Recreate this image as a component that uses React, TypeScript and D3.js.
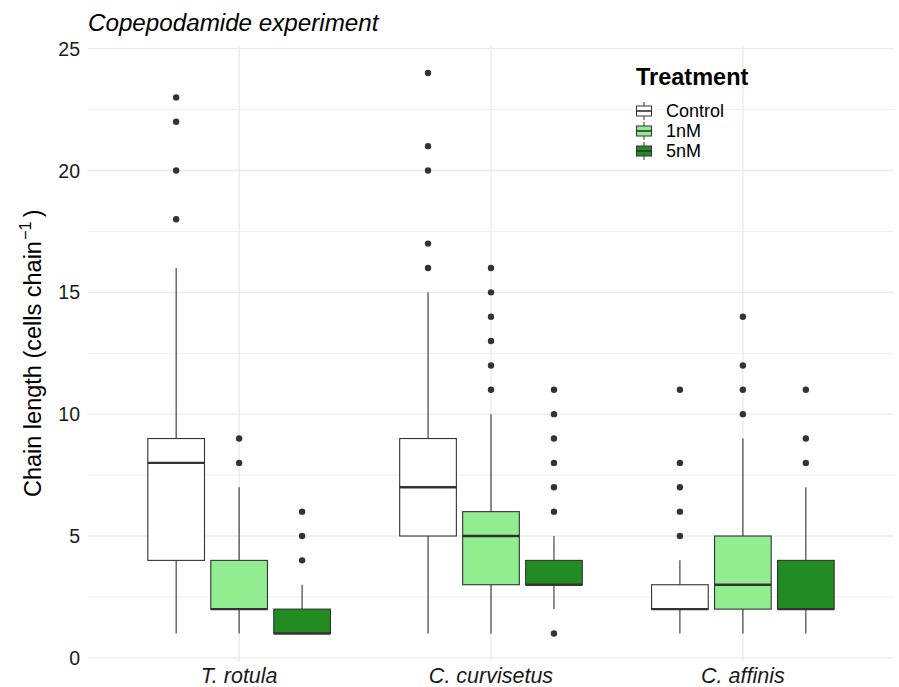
import React, { useEffect, useRef } from 'react';
import * as d3 from 'd3';

// values
const species = ["T. rotula", "C. curvisetus", "C. affinis"];
const treatments = ["Control", "1nM", "5nM"];
const treatmentFills = ["#FFFFFF", "#90EE90", "#228B22"];

// [lower whisker, q1, median, q3, upper whisker], one row per species
const controlStats = [[1, 4, 8, 9, 16], [1, 5, 7, 9, 15], [1, 2, 2, 3, 4]];
const nM1Stats = [[1, 2, 2, 4, 7], [1, 3, 5, 6, 10], [1, 2, 3, 5, 9]];
const nM5Stats = [[1, 1, 1, 2, 3], [2, 3, 3, 4, 5], [1, 2, 2, 4, 7]];

const controlOutliers = [[18, 20, 22, 23], [16, 17, 20, 21, 24], [5, 6, 7, 8, 11]];
const nM1Outliers = [[8, 9], [11, 12, 13, 14, 15, 16], [10, 11, 12, 14]];
const nM5Outliers = [[4, 5, 6], [1, 6, 7, 8, 9, 10, 11], [8, 9, 11]];

const yTicks = [0, 5, 10, 15, 20, 25];
const yMinorTicks = [2.5, 7.5, 12.5, 17.5, 22.5];

const FONT = "'Liberation Sans', Arial, Helvetica, sans-serif";

function App() {
  const svgRef = useRef<SVGSVGElement | null>(null);

  useEffect(() => {
    const svg = d3.select(svgRef.current);
    svg.selectAll('*').remove();

    const left = 88, right = 894;
    const x = d3.scalePoint().domain(species).range([left, right]).padding(0.6);
    const step = x.step();
    const dodge = d3.scaleBand()
      .domain(treatments)
      .range([-0.375 * step, 0.375 * step])
      .paddingInner(0.1)
      .paddingOuter(0.05);

    const y = d3.scaleLinear().domain([-0.15, 25.15]).range([661.5, 45]);

    const grid = svg.append("g");
    // minor grid
    grid.selectAll("line.minor")
      .data(yMinorTicks)
      .enter().append("line")
      .attr("x1", left).attr("x2", right)
      .attr("y1", d => y(d)).attr("y2", d => y(d))
      .attr("stroke", "#EBEBEB").attr("stroke-width", 0.8);
    grid.selectAll("line.major")
      .data(yTicks)
      .enter().append("line")
      .attr("x1", left).attr("x2", right)
      .attr("y1", d => y(d)).attr("y2", d => y(d))
      .attr("stroke", "#EBEBEB").attr("stroke-width", 1.4);
    grid.selectAll("line.vert")
      .data(species)
      .enter().append("line")
      .attr("x1", d => x(d)!).attr("x2", d => x(d)!)
      .attr("y1", y.range()[0]).attr("y2", y.range()[1])
      .attr("stroke", "#EBEBEB").attr("stroke-width", 1.4);

    // y tick labels
    svg.append("g").selectAll("text")
      .data(yTicks)
      .enter().append("text")
      .attr("x", 80)
      .attr("y", d => y(d))
      .attr("dy", "0.36em")
      .attr("text-anchor", "end")
      .attr("font-family", FONT)
      .attr("font-size", 19.5)
      .attr("fill", "#1A1A1A")
      .text(d => d);

    // x tick labels
    svg.append("g").selectAll("text")
      .data(species)
      .enter().append("text")
      .attr("x", d => x(d)!)
      .attr("y", 683)
      .attr("text-anchor", "middle")
      .attr("font-family", FONT)
      .attr("font-style", "italic")
      .attr("font-size", 21.5)
      .attr("fill", "#1A1A1A")
      .text(d => d);

    const allStats = [controlStats, nM1Stats, nM5Stats];
    const allOutliers = [controlOutliers, nM1Outliers, nM5Outliers];
    const bw = dodge.bandwidth();

    treatments.forEach((t, ti) => {
      const g = svg.append("g");
      species.forEach((sp, si) => {
        const [lo, q1, med, q3, hi] = allStats[ti][si];
        const cx = x(sp)! + dodge(t)! + bw / 2;
        // whiskers
        g.append("line")
          .attr("x1", cx).attr("x2", cx)
          .attr("y1", y(hi)).attr("y2", y(q3))
          .attr("stroke", "#333333").attr("stroke-width", 1.1);
        g.append("line")
          .attr("x1", cx).attr("x2", cx)
          .attr("y1", y(q1)).attr("y2", y(lo))
          .attr("stroke", "#333333").attr("stroke-width", 1.1);
        g.append("rect")
          .attr("x", cx - bw / 2)
          .attr("y", y(q3))
          .attr("width", bw)
          .attr("height", y(q1) - y(q3))
          .attr("fill", treatmentFills[ti])
          .attr("stroke", "#333333")
          .attr("stroke-width", 1.1);
        g.append("line")
          .attr("x1", cx - bw / 2).attr("x2", cx + bw / 2)
          .attr("y1", y(med)).attr("y2", y(med))
          .attr("stroke", "#333333").attr("stroke-width", 2.3);
        g.selectAll("circle.out" + si)
          .data(allOutliers[ti][si])
          .enter().append("circle")
          .attr("cx", cx)
          .attr("cy", d => y(d))
          .attr("r", 3.2)
          .attr("fill", "#333333");
      });
    });

    // title
    svg.append("text")
      .attr("x", 88).attr("y", 31)
      .attr("font-family", FONT)
      .attr("font-style", "italic")
      .attr("font-size", 24.2)
      .attr("fill", "#000")
      .text("Copepodamide experiment");

    // y axis title
    const yt = svg.append("text")
      .attr("transform", "translate(41," + y(12.5) + ") rotate(-90)")
      .attr("text-anchor", "middle")
      .attr("font-family", FONT)
      .attr("font-size", 23.5)
      .attr("fill", "#000");
    yt.append("tspan").text("Chain length (cells chain");
    yt.append("tspan").attr("dx", 1).attr("dy", -10).attr("font-size", 16.5).text("\u22121");
    yt.append("tspan").attr("dx", 4).attr("dy", 10).text(")");

    // legend
    const lg = svg.append("g").attr("transform", "translate(636,0)");
    lg.append("text")
      .attr("x", 0).attr("y", 85)
      .attr("font-family", FONT)
      .attr("font-weight", "bold")
      .attr("font-size", 23.5)
      .attr("fill", "#000")
      .text("Treatment");
    treatments.forEach((t, i) => {
      const cy = 111 + i * 20;
      const kx = 8;
      lg.append("line")
        .attr("x1", kx).attr("x2", kx)
        .attr("y1", cy - 9).attr("y2", cy + 9)
        .attr("stroke", "#333333").attr("stroke-width", 1);
      lg.append("rect")
        .attr("x", kx - 7.5).attr("y", cy - 5)
        .attr("width", 15).attr("height", 10)
        .attr("fill", treatmentFills[i])
        .attr("stroke", "#333333").attr("stroke-width", 1);
      lg.append("line")
        .attr("x1", kx - 7.5).attr("x2", kx + 7.5)
        .attr("y1", cy).attr("y2", cy)
        .attr("stroke", "#333333").attr("stroke-width", 1.6);
      lg.append("text")
        .attr("x", 30).attr("y", cy)
        .attr("dy", "0.36em")
        .attr("font-family", FONT)
        .attr("font-size", 18)
        .attr("fill", "#000")
        .text(t);
    });
  }, []);

  return (
    <svg
      ref={svgRef}
      width={899}
      height={687}
      style={{ position: 'absolute', left: 0, top: 0, background: '#fff' }}
    />
  );
}

export default App;
